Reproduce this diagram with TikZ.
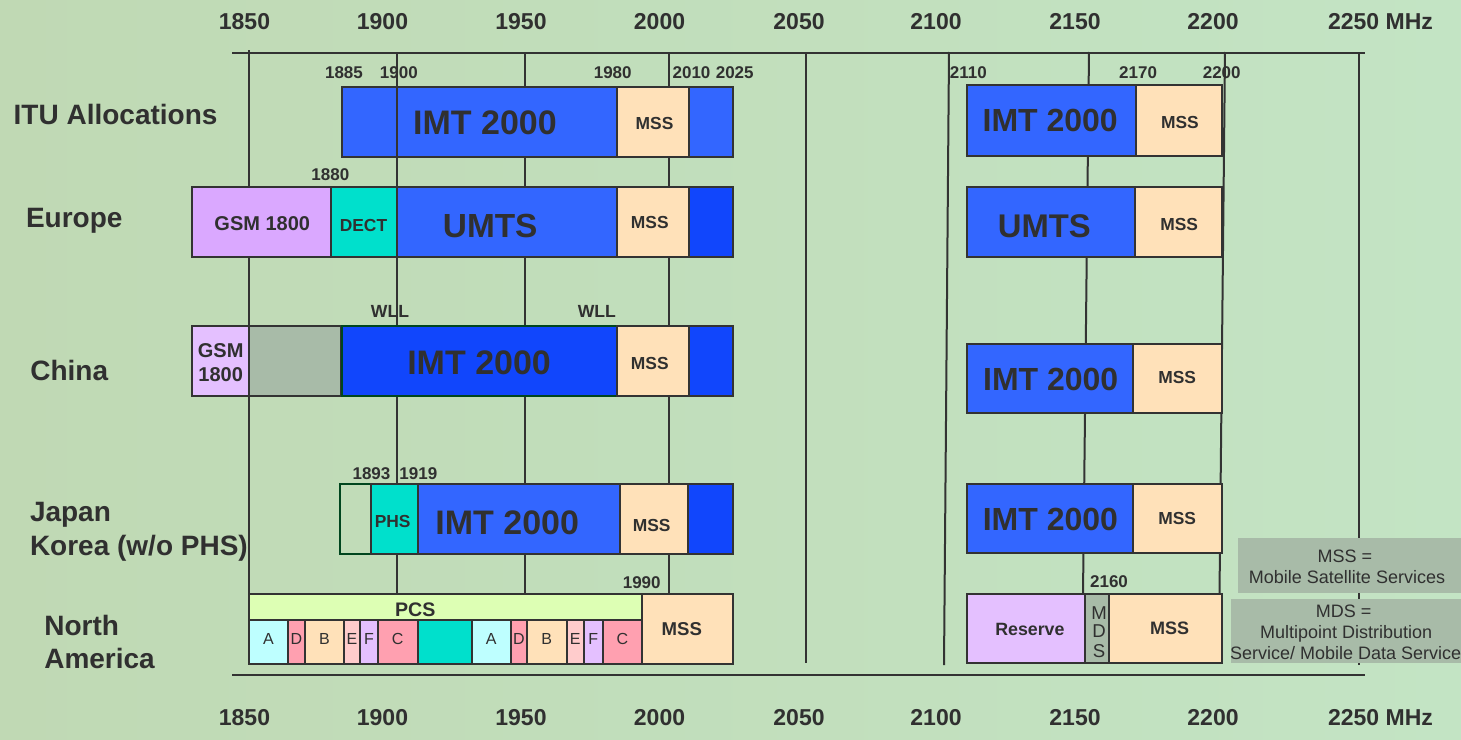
\documentclass[tikz,border=0pt]{standalone}
\usepackage{fontspec}
\setmainfont{Liberation Sans}

\definecolor{linegray}{RGB}{51,51,51}
\definecolor{textgray}{RGB}{48,48,48}
\definecolor{imtblue}{RGB}{51,102,255}
\definecolor{deepblue}{RGB}{17,70,252}
\definecolor{msspeach}{RGB}{255,225,185}
\definecolor{gsmviolet}{RGB}{218,168,255}
\definecolor{lavender}{RGB}{228,192,255}
\definecolor{dectteal}{RGB}{0,224,204}
\definecolor{sagegray}{RGB}{168,187,168}
\definecolor{pcsgreen}{RGB}{221,255,180}
\definecolor{blockcyan}{RGB}{190,255,255}
\definecolor{blockpink}{RGB}{255,160,176}
\definecolor{blockrose}{RGB}{255,204,204}
\definecolor{darkgreen}{RGB}{0,70,30}
\definecolor{bgleft}{RGB}{192,217,180}
\definecolor{bgmid}{RGB}{184,222,204}
\definecolor{bgright}{RGB}{195,228,196}

\begin{document}
\begin{tikzpicture}[x=0.5pt, y=-0.5pt, line width=1pt,
  txt/.style={inner sep=0pt, text=textgray, anchor=base, yshift={-0.358*#1pt},
    font=\bfseries\fontsize{#1}{#1}\selectfont},
  plaintxt/.style={txt=#1, font=\fontsize{#1}{#1}\selectfont},
  rowlabel/.style={txt=14, anchor=base west},
  band/.style={draw=linegray},
  freqline/.style={draw=linegray}]

  % Background
  \useasboundingbox (0,0) rectangle (1461,739);
  \shade[left color=bgleft, middle color=bgmid, right color=bgright] (0,0) rectangle (1461,739);

  % Frequency grid
  \draw[freqline] (249,50) -- (249,664);
  \draw[freqline] (397,52) -- (397,594);
  \draw[freqline] (525,52) -- (525,594);
  \draw[freqline] (669,52) -- (669,594);
  \draw[freqline] (805.5,52) -- (805.5,663);
  \draw[freqline] (949,52) -- (944,665);
  \draw[freqline] (1089,52) -- (1083,594);
  \draw[freqline] (1225,52) -- (1219.5,594);
  \draw[freqline] (1359,52) -- (1359,665);
  \draw[freqline] (232,52.5) -- (1365,52.5);
  \draw[freqline] (232,675) -- (1365,675);

  % Axis labels, top and bottom
  \node[txt=11.5] (t1850) at (244.5,21.3) {1850};
  \node[txt=11.5] (t1900) at (382.5,21.3) {1900};
  \node[txt=11.5] (t1950) at (521,21.3) {1950};
  \node[txt=11.5] (t2000) at (659.5,21.3) {2000};
  \node[txt=11.5] (t2050) at (799,21.3) {2050};
  \node[txt=11.5] (t2100) at (936,21.3) {2100};
  \node[txt=11.5] (t2150) at (1075,21.3) {2150};
  \node[txt=11.5] (t2200) at (1213,21.3) {2200};
  \node[txt=11.5] (t2250) at (1380.5,21.3) {2250 MHz};
  \node[txt=11.5] (b1850) at (244.5,717.5) {1850};
  \node[txt=11.5] (b1900) at (382.5,717.5) {1900};
  \node[txt=11.5] (b1950) at (521,717.5) {1950};
  \node[txt=11.5] (b2000) at (659.5,717.5) {2000};
  \node[txt=11.5] (b2050) at (799,717.5) {2050};
  \node[txt=11.5] (b2100) at (936,717.5) {2100};
  \node[txt=11.5] (b2150) at (1075,717.5) {2150};
  \node[txt=11.5] (b2200) at (1213,717.5) {2200};
  \node[txt=11.5] (b2250) at (1380.5,717.5) {2250 MHz};

  % Region names
  \node[rowlabel] (ituname) at (12.7,114.8) {ITU Allocations};
  \node[rowlabel] (euname) at (25,217.8) {Europe};
  \node[rowlabel] (cnname) at (29.3,370.9) {China};
  \node[rowlabel] (jpname) at (29,511.5) {Japan};
  \node[rowlabel] (krname) at (29,545) {Korea (w/o PHS)};
  \node[rowlabel] (naname) at (43.3,625.4) {North};
  \node[rowlabel] (amname) at (43.3,658.8) {America};

  % ITU allocations
  \draw[band, fill=imtblue] (342,87.3) rectangle (396.8,156.7);
  \draw[band, fill=imtblue] (396.8,87.3) rectangle (617.3,156.7);
  \draw[band, fill=msspeach] (617.3,87.3) rectangle (689.4,156.7);
  \draw[band, fill=imtblue] (689.4,87.3) rectangle (733.1,156.7);
  \draw[band, fill=imtblue] (966.6,85) rectangle (1135.9,156);
  \draw[band, fill=msspeach] (1135.9,85) rectangle (1221.9,156);
  \node[txt=17] (ituimt) at (485,122.5) {IMT 2000};
  \node[txt=8.7] (itumss) at (654.5,123) {MSS};
  \node[txt=16] (ituimtb) at (1050.2,120) {IMT 2000};
  \node[txt=8.7] (itumssb) at (1179.9,122.3) {MSS};
  \node[txt=8.5] (f1885) at (344,72.2) {1885};
  \node[txt=8.5] (f1900) at (398.8,72.2) {1900};
  \node[txt=8.5] (f1980) at (612.7,72.2) {1980};
  \node[txt=8.5] (f2010) at (691.5,72.2) {2010};
  \node[txt=8.5] (f2025) at (734.7,72.2) {2025};
  \node[txt=8.5] (f2110) at (968.4,72) {2110};
  \node[txt=8.5] (f2170) at (1138.1,72) {2170};
  \node[txt=8.5] (f2200) at (1221.7,72) {2200};

  % Europe
  \draw[band, fill=gsmviolet] (192.2,186.7) rectangle (330.6,256.7);
  \draw[band, fill=dectteal] (330.6,186.7) rectangle (396.8,256.7);
  \draw[band, fill=imtblue] (396.8,186.7) rectangle (617.3,256.7);
  \draw[band, fill=msspeach] (617.3,186.7) rectangle (689.4,256.7);
  \draw[band, fill=deepblue] (689.4,186.7) rectangle (733.1,256.7);
  \draw[band, fill=imtblue] (966.6,187.3) rectangle (1134.9,256.7);
  \draw[band, fill=msspeach] (1134.9,187.3) rectangle (1221.9,256.7);
  \node[txt=10] (eugsm) at (262.3,223.8) {GSM 1800};
  \node[txt=8.7] (eudect) at (363.5,225.5) {DECT};
  \node[txt=16.7] (euumts) at (490.2,225.3) {UMTS};
  \node[txt=8.7] (eumss) at (649.8,222.3) {MSS};
  \node[txt=16.4] (euumtsb) at (1044.3,225.8) {UMTS};
  \node[txt=8.7] (eumssb) at (1179.2,224.7) {MSS};
  \node[txt=8.5] (f1880) at (330.4,174) {1880};

  % China
  \draw[band, fill=lavender] (192.2,326) rectangle (249.2,396);
  \draw[band, fill=sagegray] (249.2,326) rectangle (341,396);
  \draw[draw=darkgreen, fill=deepblue] (342,326) rectangle (617.3,396);
  \draw[band, fill=msspeach] (617.3,326) rectangle (689.4,396);
  \draw[band, fill=deepblue] (689.4,326) rectangle (733.1,396);
  \draw[band, fill=imtblue] (966.6,344) rectangle (1133.2,412.7);
  \draw[band, fill=msspeach] (1133.2,344) rectangle (1221.9,412.7);
  \node[txt=10] (cngsm) at (220.7,350.8) {GSM};
  \node[txt=10] (cngsmb) at (220.7,374.2) {1800};
  \node[txt=17] (cnimt) at (479.1,362.5) {IMT 2000};
  \node[txt=8.7] (cnmss) at (649.8,363) {MSS};
  \node[txt=16] (cnimtb) at (1050.7,378.7) {IMT 2000};
  \node[txt=8.7] (cnmssb) at (1177.2,377.3) {MSS};
  \node[txt=8.8] (wlla) at (390,310.7) {WLL};
  \node[txt=8.8] (wllb) at (596.8,310.7) {WLL};

  % Japan / Korea
  \draw[draw=darkgreen] (340.2,484.3) rectangle (371.3,554.3);
  \draw[band, fill=dectteal] (371.3,484.3) rectangle (417.9,554.3);
  \draw[band, fill=imtblue] (417.9,484.3) rectangle (619.5,554.3);
  \draw[band, fill=msspeach] (619.5,484.3) rectangle (687.9,554.3);
  \draw[band, fill=deepblue] (687.9,484.3) rectangle (733.1,554.3);
  \draw[band, fill=imtblue] (966.6,484) rectangle (1133.2,552.7);
  \draw[band, fill=msspeach] (1133.2,484) rectangle (1221.9,552.7);
  \node[txt=8.7] (jpphs) at (392.7,521.7) {PHS};
  \node[txt=17] (jpimt) at (507.2,522.8) {IMT 2000};
  \node[txt=8.7] (jpmss) at (651.7,525) {MSS};
  \node[txt=16] (jpimtb) at (1050.4,518.7) {IMT 2000};
  \node[txt=8.7] (jpmssb) at (1177.2,518.3) {MSS};
  \node[txt=8.5] (f1893) at (371.5,473) {1893};
  \node[txt=8.5] (f1919) at (418.4,473) {1919};

  % North America: PCS blocks
  \draw[band, fill=pcsgreen] (249,594) rectangle (642.3,620);
  \draw[band, fill=blockcyan] (249,620) rectangle (288,663.7);
  \draw[band, fill=blockpink] (288,620) rectangle (305,663.7);
  \draw[band, fill=msspeach] (305,620) rectangle (344,663.7);
  \draw[band, fill=blockrose] (344,620) rectangle (360,663.7);
  \draw[band, fill=lavender] (360,620) rectangle (378,663.7);
  \draw[band, fill=blockpink] (378,620) rectangle (417.5,663.7);
  \draw[band, fill=dectteal] (417.5,620) rectangle (471.5,663.7);
  \draw[band, fill=blockcyan] (471.5,620) rectangle (511,663.7);
  \draw[band, fill=blockpink] (511,620) rectangle (527,663.7);
  \draw[band, fill=msspeach] (527,620) rectangle (566.5,663.7);
  \draw[band, fill=blockrose] (566.5,620) rectangle (584,663.7);
  \draw[band, fill=lavender] (584,620) rectangle (602.5,663.7);
  \draw[band, fill=blockpink] (602.5,620) rectangle (642.3,663.7);
  \draw[band, fill=msspeach] (642.3,594) rectangle (732.7,663.7);
  \node[txt=9.8] (napcs) at (415.3,609.5) {PCS};
  \node[plaintxt=8] (naa) at (268.5,639.2) {A};
  \node[plaintxt=8] (nad) at (296.5,639.2) {D};
  \node[plaintxt=8] (nab) at (324.5,639.2) {B};
  \node[plaintxt=8] (nae) at (352,639.2) {E};
  \node[plaintxt=8] (naf) at (369,639.2) {F};
  \node[plaintxt=8] (nac) at (397.75,639.2) {C};
  \node[plaintxt=8] (naab) at (491.25,639.2) {A};
  \node[plaintxt=8] (nadb) at (519,639.2) {D};
  \node[plaintxt=8] (nabb) at (546.75,639.2) {B};
  \node[plaintxt=8] (naeb) at (575.25,639.2) {E};
  \node[plaintxt=8] (nafb) at (593.25,639.2) {F};
  \node[plaintxt=8] (nacb) at (622.4,639.2) {C};
  \node[txt=9.3] (namss) at (681.8,628.7) {MSS};
  \node[txt=8.5] (f1990) at (641.7,582) {1990};

  % North America: upper band
  \draw[band, fill=lavender] (966.6,594.3) rectangle (1085.1,663.3);
  \draw[band, fill=sagegray] (1085.1,594.3) rectangle (1108.8,663.3);
  \draw[band, fill=msspeach] (1108.8,594.3) rectangle (1221.9,663.3);
  \node[txt=8.9] (nares) at (1029.9,629) {Reserve};
  \node[plaintxt=9.3] (mdsm) at (1099,613.3) {M};
  \node[plaintxt=9.3] (mdsd) at (1099,631.2) {D};
  \node[plaintxt=9.3] (mdss) at (1099,651.3) {S};
  \node[txt=9] (namssb) at (1169.6,628.3) {MSS};
  \node[txt=8.5] (f2160) at (1109,581) {2160};

  % Legend
  \fill[sagegray] (1237.5,538.3) rectangle (1461,593.3);
  \fill[sagegray] (1230.7,599) rectangle (1461,663.3);
  \node[plaintxt=9] (mssdef) at (1344.8,556.2) {MSS =};
  \node[plaintxt=9] (mssdefb) at (1347,576.7) {Mobile Satellite Services};
  \node[plaintxt=9] (mdsdef) at (1343.6,610.8) {MDS =};
  \node[plaintxt=9] (mdsdefb) at (1346.2,631.7) {Multipoint Distribution};
  \node[plaintxt=9] (mdsdefc) at (1345.7,653) {Service/ Mobile Data Service};

\end{tikzpicture}
\end{document}
